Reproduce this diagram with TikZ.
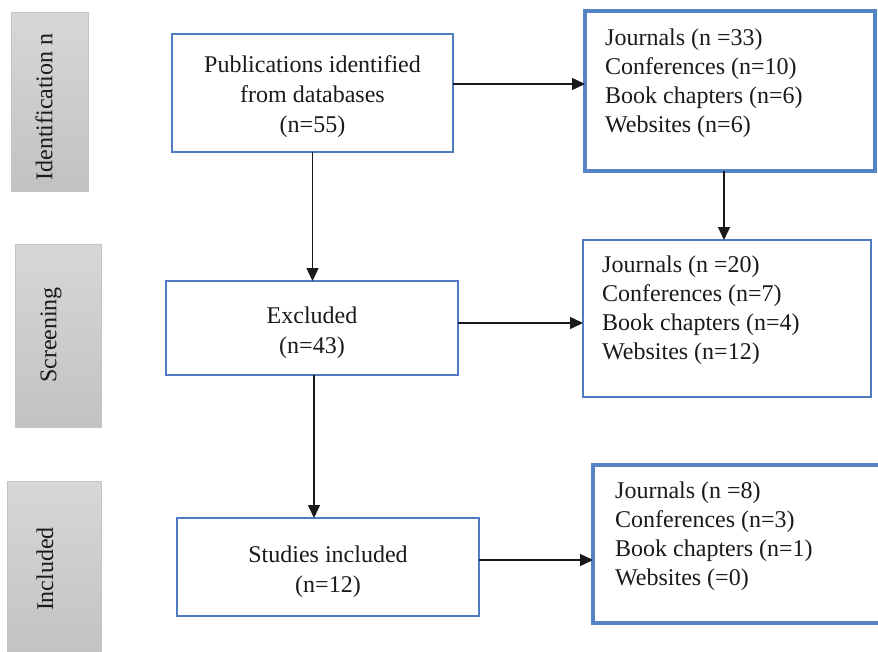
\documentclass[tikz,border=0pt]{standalone}
\usepackage{fontspec}
\setmainfont{Liberation Serif}
\usetikzlibrary{arrows.meta,calc}
\definecolor{boxblue}{HTML}{4F7CBE}
\definecolor{thickblue}{HTML}{5683C2}
\definecolor{gtop}{HTML}{D7D7D7}
\definecolor{gbot}{HTML}{C2C2C2}
\definecolor{gline}{HTML}{C4C4C4}
\definecolor{txt}{HTML}{1A1A1A}
\tikzset{
  mainbox/.style={draw=boxblue,line width=2pt,fill=white,inner sep=0pt,outer sep=0pt},
  maintext/.style={align=center,inner sep=0pt,text=txt,font=\fontsize{24}{30}\selectfont},
  listbox/.style={draw=boxblue,line width=2pt,fill=white,inner sep=0pt,outer sep=0pt},
  thickbox/.style={draw=thickblue,line width=4.5pt,fill=white,inner sep=0pt,outer sep=0pt},
  listtext/.style={anchor=base west,align=left,inner sep=0pt,text=txt,font=\fontsize{24}{29}\selectfont},
  graybox/.style={draw=gline,line width=1pt,top color=gtop,bottom color=gbot,inner sep=0pt,outer sep=0pt},
  graytext/.style={rotate=90,text=txt,font=\fontsize{24}{29}\selectfont,inner sep=0pt},
  arr/.style={draw=black!90,line width=1.4pt,-{Triangle[length=13pt,width=12pt]}}
}
\begin{document}
\begin{tikzpicture}[x=1pt,y=-1pt]
\clip (0,0) rectangle (878,651);
\fill[white] (0,0) rectangle (878,651);
% gray stage labels
\node[graybox,minimum width=77pt,minimum height=179pt] (g1) at (49.5,101.5) {};
\node[graytext] (g1t) at (44,107) {Identification n};
\node[graybox,minimum width=86pt,minimum height=183pt] (g2) at (58,335.5) {};
\node[graytext] (g2t) at (51,335) {Screening};
\node[graybox,minimum width=94pt,minimum height=176pt] (g3) at (54,569) {};
\node[graytext] (g3t) at (45,569) {Included};
% main boxes
\node[mainbox,minimum width=281pt,minimum height=118pt] (pub) at (312.5,93) {};
\node[maintext] (pubt) at (312.5,97) {Publications identified\\from databases\\(n=55)};
\node[mainbox,minimum width=292pt,minimum height=94pt] (excl) at (312,328) {};
\node[maintext] (exclt) at (312,333) {Excluded\\(n=43)};
\node[mainbox,minimum width=302pt,minimum height=98pt] (stud) at (328,567) {};
\node[maintext] (studt) at (328,572) {Studies included\\(n=12)};
% right boxes
\node[thickbox,minimum width=290pt,minimum height=160pt] (r1) at (730,91) {};
\node[listtext] (t1) at (605,132) {Journals (n =33)\\Conferences (n=10)\\Book chapters (n=6)\\Websites (n=6)};
\node[listbox,minimum width=288pt,minimum height=157pt] (r2) at (727,318.5) {};
\node[listtext] (t2) at (602,359) {Journals (n =20)\\Conferences (n=7)\\Book chapters (n=4)\\Websites (n=12)};
\node[thickbox,minimum width=296pt,minimum height=158pt] (r3) at (741,544) {};
\node[listtext] (t3) at (615,585) {Journals (n =8)\\Conferences (n=3)\\Book chapters (n=1)\\Websites (=0)};
% connectors
\draw[arr] ([yshift=9pt]pub.east) -- ([yshift=9pt]pub.east -| r1.west);
\draw[arr] ([xshift=-6pt]r1.south) -- ([xshift=-6pt]r1.south |- r2.north);
\draw[arr] (pub.south) -- (pub.south |- excl.north);
\draw[arr] ([yshift=5pt]excl.east) -- ([yshift=5pt]excl.east -| r2.west);
\draw[arr] ([xshift=2pt]excl.south) -- ([xshift=2pt]excl.south |- stud.north);
\draw[arr] ([yshift=7pt]stud.east) -- ([yshift=7pt]stud.east -| r3.west);
\end{tikzpicture}
\end{document}
